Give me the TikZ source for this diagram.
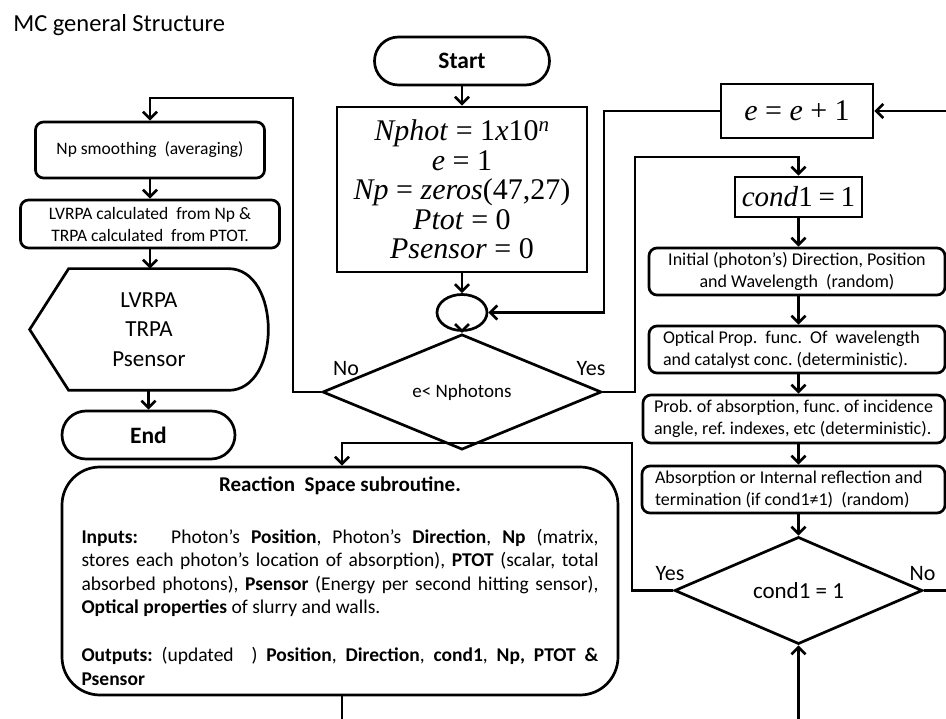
\documentclass[tikz,border=0pt]{standalone}
\usepackage{fontspec}
\setmainfont{Carlito}
\newfontfamily\eqfont{Liberation Serif}
\usetikzlibrary{arrows.meta,shapes.geometric}
\frenchspacing
\newcommand\eqgap{\hspace{0.25em}}
\begin{document}
\begin{tikzpicture}[x=1pt,y=-1pt,line width=2.7pt,
  arr/.style={-{Straight Barb[length=7pt,width=14pt]}},
  term/.style={draw,rounded corners=24pt,minimum width=175pt,minimum height=48pt,inner sep=0pt,font=\fontsize{23.5}{26}\selectfont\bfseries},
  sqbox/.style={draw,inner sep=0pt},
  rbox/.style={draw,rounded corners=8pt,inner ysep=0pt,font=\fontsize{17.5}{22}\selectfont},
  stepbox/.style={rbox,font=\fontsize{18}{22}\selectfont},
  decision/.style={draw,diamond,inner sep=0pt},
  lbl/.style={anchor=base,inner sep=0pt,font=\fontsize{22}{24}\selectfont},
  eq/.style={font=\eqfont\fontsize{30}{29.5}\selectfont}
]
\path[use as bounding box,fill=white] (0,0) rectangle (946,719);

% heading
\node[anchor=base west,inner sep=0pt,font=\fontsize{24.5}{28}\selectfont] (title) at (12,31.5) {MC general Structure};

% main loop over photons
\node[term] (start) at (462,61) {Start};
\node[sqbox,minimum width=250pt,minimum height=165pt,align=center,eq] (init) at (462,189.5)
  {\textit{Nphot}\eqgap=\eqgap1\textit{x}10\textsuperscript{\textit{n}}\\
   \textit{e}\eqgap=\eqgap1\\
   \textit{Np}\eqgap=\eqgap\textit{zeros}(47,27)\\
   \textit{Ptot}\eqgap=\eqgap0\\
   \textit{Psensor}\eqgap=\eqgap0};
\node[draw,ellipse,minimum width=50pt,minimum height=36pt,inner sep=0pt] (junc) at (462,312.5) {};
\node[decision,minimum width=279pt,minimum height=86pt,font=\fontsize{19}{22}\selectfont] (loop) at (462,392) {e< Nphotons};
\node[lbl] (nolbl) at (346,376) {No};
\node[lbl] (yeslbl) at (591,376) {Yes};

% post-processing column
\node[rbox,minimum width=229pt,minimum height=56pt] (smooth) at (150,150) {Np smoothing\ \ (averaging)};
\node[rbox,minimum width=259pt,minimum height=48pt,align=center] (calc) at (150,224)
  {LVRPA calculated\ \ from Np \&\\TRPA calculated\ \ from PTOT.};
\node[minimum width=236pt,minimum height=119pt,inner sep=0pt,align=center,font=\fontsize{23}{29.5}\selectfont] (disp) at (149,329.5)
  {LVRPA\\TRPA\\Psensor};
\draw (disp.west) -- ([xshift=39pt]disp.north west) -- ([xshift=-40pt]disp.north east)
  .. controls ([xshift=13.3pt]disp.north east) and ([xshift=13.3pt]disp.south east) .. ([xshift=-40pt]disp.south east)
  -- ([xshift=39pt]disp.south west) -- cycle;
\node[term,minimum width=173pt] (end) at (148.5,435) {End};

% per-photon column
\node[sqbox,minimum width=152pt,minimum height=54pt,eq] (incr) at (797,111) {\textit{e}\eqgap=\eqgap\textit{e}\eqgap+\eqgap1};
\node[sqbox,minimum width=127pt,minimum height=40pt,eq,font=\eqfont\fontsize{29}{29}\selectfont] (reset) at (798.5,197) {\textit{cond}1\hspace{0.2em}=\hspace{0.2em}1};
\node[stepbox,minimum width=296pt,minimum height=47pt,align=center] (initdir) at (797,271.5)
  {Initial (photon’s)\ Direction, Position\\and Wavelength\ \ (random)};
\node[stepbox,minimum width=296pt,minimum height=47pt,text width=268pt,inner xsep=14pt,align=flush left] (optic) at (797,349.5)
  {\mbox{Optical Prop.\ \ func.\ \ Of\ \ wavelength}\\\mbox{and catalyst conc. (deterministic).}};
\node[stepbox,minimum width=302pt,minimum height=48pt,text width=280pt,inner xsep=11pt,align=flush left] (prob) at (794,419)
  {\mbox{Prob. of absorption, func. of incidence}\\\mbox{angle, ref. indexes, etc (deterministic).}};
\node[stepbox,minimum width=303pt,minimum height=47pt,text width=277pt,inner xsep=13pt,align=flush left] (absorb) at (793.5,489.5)
  {\mbox{Absorption or Internal reflection and}\\\mbox{termination (if cond1≠1)\ \ (random)}};
\node[decision,minimum width=248pt,minimum height=95pt,font=\fontsize{23}{26}\selectfont] (check) at (798.5,590.5) {cond1 = 1};
\node[lbl] (yes2) at (670,580) {Yes};
\node[lbl] (no2) at (922.5,580) {No};

% reaction space subroutine
\node[draw,rounded corners=38pt,text width=517pt,inner xsep=19.5pt,inner ysep=0pt,minimum height=228pt,
      align=justify,font=\fontsize{19.5}{23.5}\selectfont] (react) at (340,581) {%
  \parindent=0pt
  {\centering\fontsize{21}{23.5}\selectfont\bfseries Reaction\ \ Space subroutine.\par}
  \vspace{28.5pt}
  \textbf{Inputs:}\ \ \ Photon’s \textbf{Position}, Photon’s \textbf{Direction}, \textbf{Np} (matrix,\linebreak
  stores each photon’s location of absorption), \textbf{PTOT} (scalar, total\linebreak
  absorbed photons), \textbf{Psensor} (Energy per second hitting sensor),\linebreak
  \textbf{Optical properties} of\ slurry\ and walls.\par
  \vspace{24.5pt}
  \textbf{Outputs:} (updated\ \ ) \textbf{Position}, \textbf{Direction}, \textbf{cond1}, \textbf{Np, PTOT \&}\linebreak
  \textbf{Psensor}\par};

% bends and open ends of the connectors
\coordinate (noturn) at (293,98);
\coordinate (yesturn) at (635,157);
\coordinate (incrdrop) at (604,312.5);
\coordinate (backturn) at (632,443);
\coordinate (reactin) at (342,443);
\coordinate (reactout) at (342,719);
\coordinate (checkin) at (798.5,719);
\coordinate (noexit) at (946,590.5);
\coordinate (incrin) at (946,111);

% connectors
\draw[arr] (start.south) -- (init.north);
\draw[arr] (init.south) -- (junc.north);
\draw[arr] (junc.south) -- (loop.north);
\draw[arr] (loop.west) -| (noturn) -| (smooth.north);
\draw[arr] (loop.east) -| (yesturn) -| (reset.north);
\draw[arr] (incrin) -- (incr.east);
\draw[arr] (incr.west) -| (incrdrop) -- (junc.east);

\draw[arr] (smooth.south) -- (calc.north);
\draw[arr] (calc.south) -- (calc.south |- disp.north);
\draw[arr] (disp.south -| end.north) -- (end.north);

\draw[arr] (reset.south) -- (reset.south |- initdir.north);
\draw[arr] (initdir.south -| reset.south) -- (optic.north -| reset.south);
\draw[arr] (optic.south -| reset.south) -- (prob.north -| reset.south);
\draw[arr] (prob.south -| reset.south) -- (absorb.north -| reset.south);
\draw[arr] (absorb.south -| check.north) -- (check.north);
\draw (check.east) -- (noexit);
\draw[arr] (check.west) -| (backturn) -- (reactin) -- (reactin |- react.north);
\draw (react.south -| reactout) -- (reactout);
\draw[arr] (checkin) -- (check.south);
\end{tikzpicture}
\end{document}
